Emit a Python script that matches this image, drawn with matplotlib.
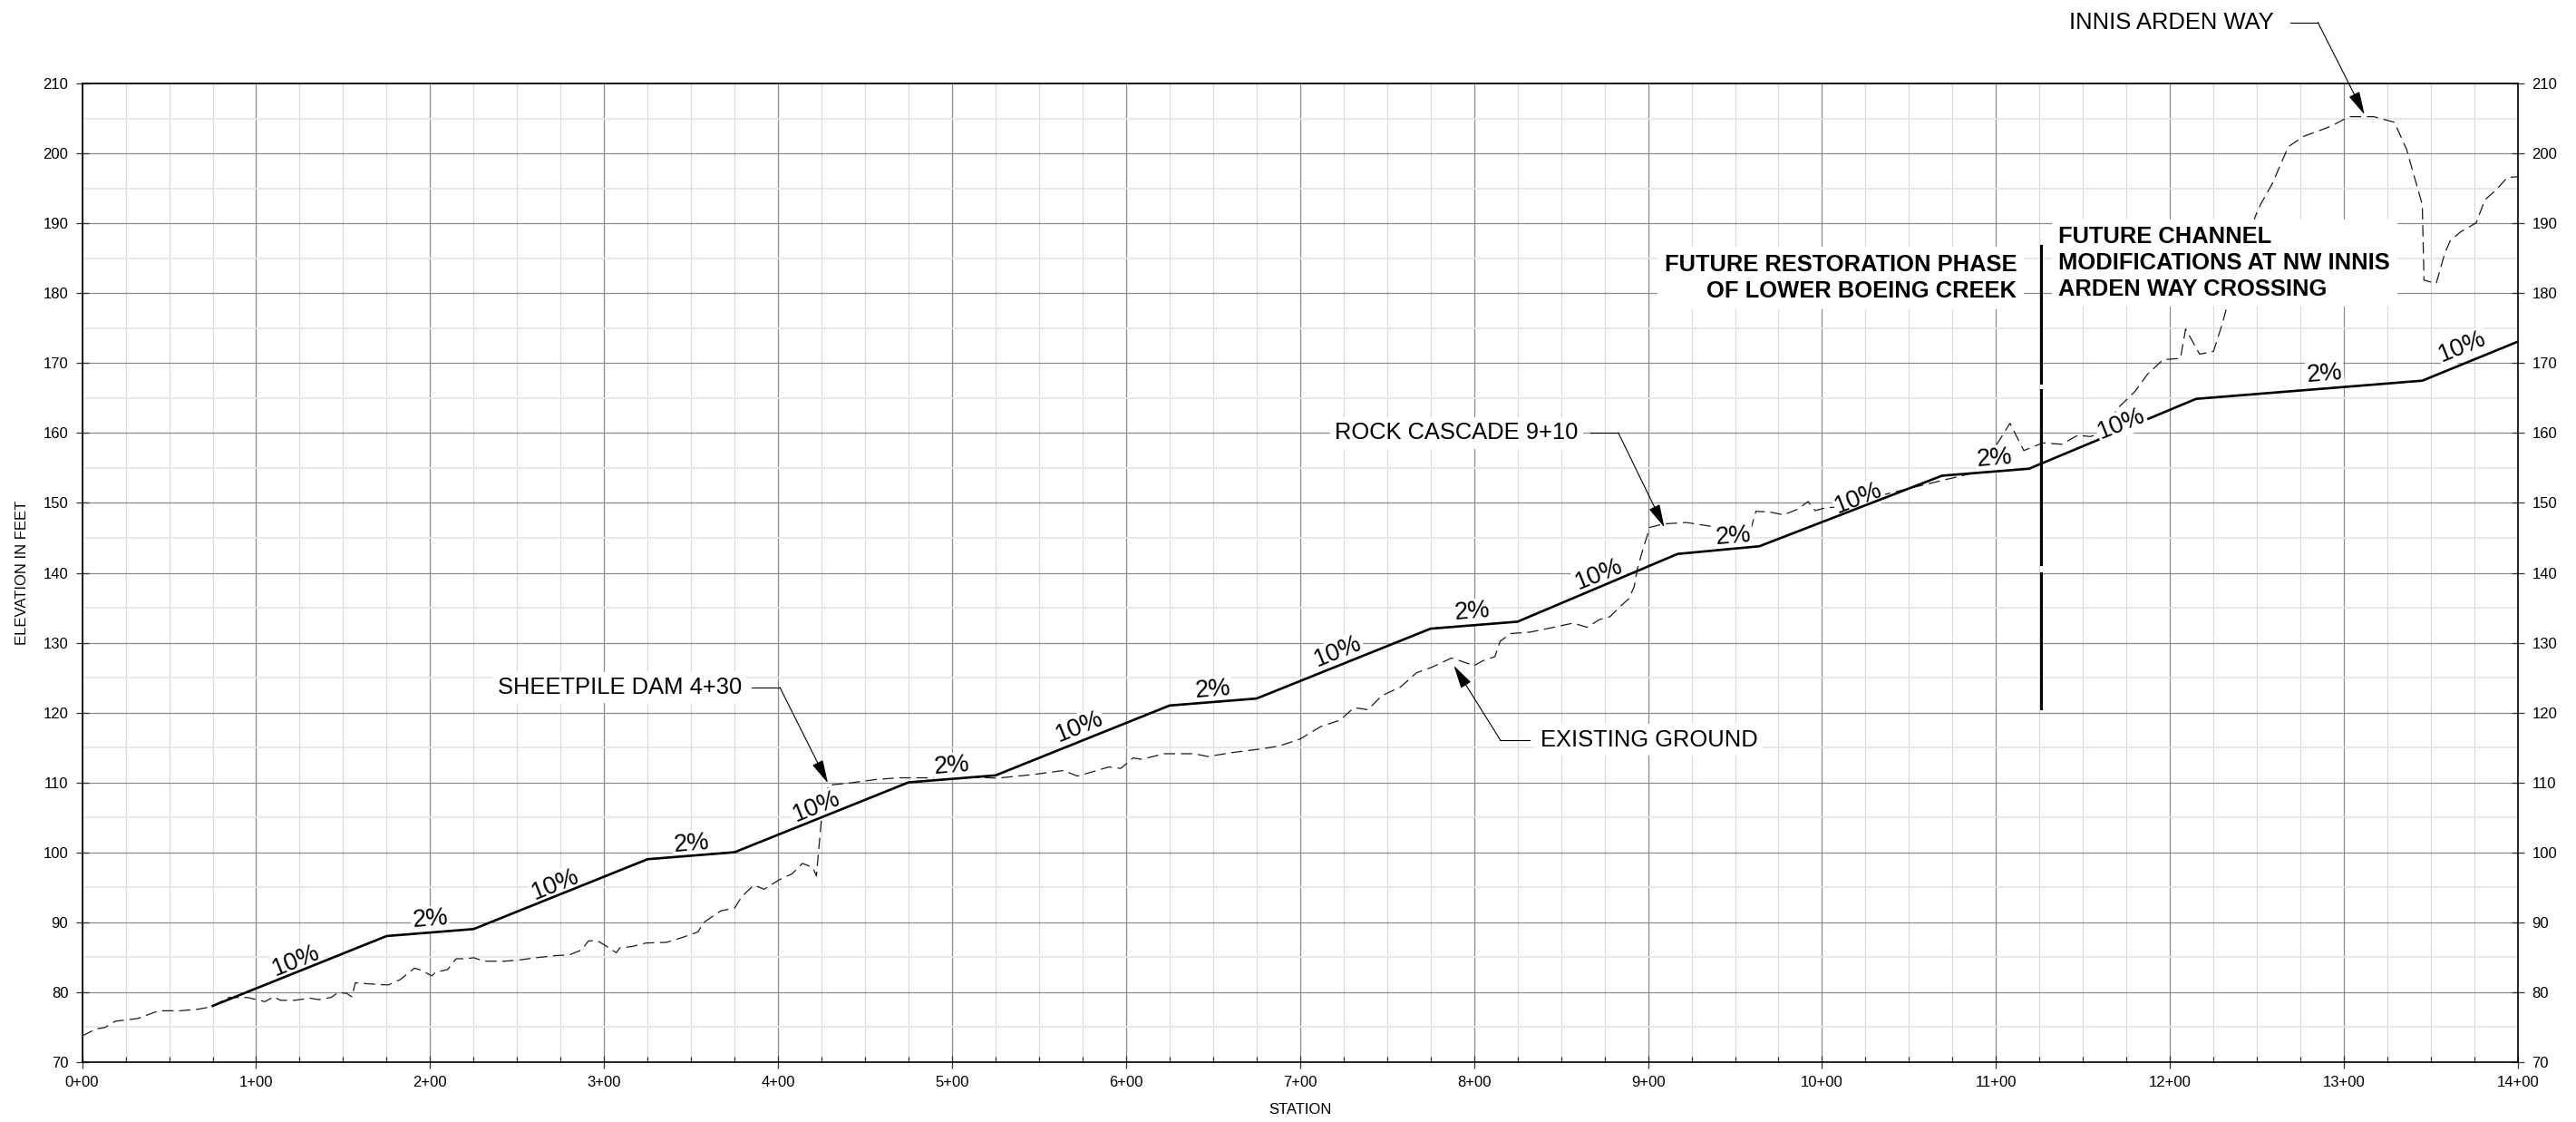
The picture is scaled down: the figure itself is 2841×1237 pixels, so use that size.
import matplotlib.pyplot as plt
from matplotlib.ticker import MultipleLocator, FuncFormatter
import numpy as np

plt.rcParams["font.family"] = ["Liberation Sans", "DejaVu Sans"]

# existing ground profile (station in feet, elevation in feet)
ground_sta = [
    0, 8, 13, 19, 32, 44, 56, 66, 75, 84, 95, 102, 105, 110, 114, 122, 131, 136,
    143, 147, 152, 155, 157, 168, 176, 183, 191, 195, 201, 203, 210, 215, 221,
    225, 231, 243, 252, 261, 272, 280, 287, 291, 296, 301, 307, 309, 316, 324,
    336, 345, 354, 357, 367, 375, 379, 386, 392, 401, 408, 414, 420, 422, 425,
    429, 441, 456, 469, 487, 502, 517, 526, 546, 564, 572, 582, 590, 597, 604,
    609, 622, 639, 647, 662, 678, 688, 700, 712, 723, 731, 739, 747, 758, 767,
    776, 787, 792, 800, 805, 812, 815, 821, 832, 842, 857, 865, 872, 878, 885,
    889, 892, 894, 897, 901, 909, 922, 935, 943, 959, 962, 970, 978, 986, 992,
    996, 1002, 1008, 1039, 1057, 1072, 1079, 1087, 1094, 1098, 1101, 1108, 1116,
    1127, 1138, 1147, 1154, 1160, 1171, 1180, 1187, 1196, 1206, 1209, 1217,
    1225, 1230, 1234, 1249, 1252, 1259, 1268, 1277, 1287, 1293, 1303, 1317,
    1329, 1336, 1345, 1346, 1353, 1358, 1361, 1367, 1376, 1381, 1387, 1394, 1400,
]
ground_elev = [
    73.7, 74.7, 74.9, 75.8, 76.2, 77.3, 77.3, 77.5, 77.9, 79.2, 79.2, 78.8,
    78.6, 79.3, 78.8, 78.8, 79.1, 78.9, 79.2, 79.9, 79.8, 79.3, 81.3, 81.1,
    81.0, 81.8, 83.4, 83.1, 82.3, 82.8, 83.2, 84.75, 84.75, 84.9, 84.4, 84.4,
    84.6, 84.9, 85.2, 85.3, 86.0, 87.3, 87.35, 86.6, 85.6, 86.3, 86.5, 87.0,
    87.1, 87.8, 88.6, 89.9, 91.6, 92.0, 93.6, 95.3, 94.7, 96.1, 96.9, 98.4,
    97.8, 96.6, 105.0, 109.6, 109.9, 110.4, 110.65, 110.65, 110.65, 110.7,
    110.6, 111.1, 111.7, 110.9, 111.6, 112.2, 112.0, 113.5, 113.3, 114.1,
    114.1, 113.7, 114.3, 114.8, 115.2, 116.2, 118.0, 118.9, 120.7, 120.4,
    122.4, 123.7, 125.7, 126.5, 127.8, 127.4, 126.7, 127.4, 128.0, 130.2,
    131.3, 131.5, 132.0, 132.8, 132.2, 133.3, 133.7, 135.4, 136.3, 138.0,
    140.7, 143.3, 146.5, 147.0, 147.2, 146.7, 146.2, 146.2, 148.8, 148.7,
    148.3, 149.1, 150.2, 148.9, 149.3, 149.4, 151.4, 152.5, 153.4, 153.8,
    154.3, 154.9, 157.5, 158.6, 161.4, 157.5, 158.6, 158.4, 159.7, 159.5,
    159.9, 163.8, 166.0, 168.4, 170.5, 170.7, 174.9, 171.3, 171.7, 175.6,
    179.3, 191.0, 192.7, 195.8, 201.0, 202.5, 203.4, 204.0, 205.3, 205.3,
    204.5, 200.6, 192.7, 181.9, 181.4, 185.8, 187.5, 188.8, 190.1, 193.4,
    194.7, 196.6, 196.7,
]

# proposed channel profile
profile_sta = [75, 175, 225, 325, 375, 475, 525, 625, 675, 775, 825, 917, 964,
               1069, 1119, 1215, 1345, 1400]
profile_elev = [78, 88, 89, 99, 100, 110, 111, 121, 122, 132, 133, 142.7, 143.8,
                153.9, 154.9, 164.9, 167.5, 173.1]

# grade callouts along the profile
grade_text = ["10%", "2%", "10%", "2%", "10%", "2%", "10%", "2%", "10%", "2%",
              "10%", "2%", "10%", "2%", "10%", "2%", "10%"]
grade_sta = [123, 200, 272, 350, 422, 500, 573, 650, 722, 799, 872, 949, 1021,
             1099, 1172, 1289, 1368]
grade_elev = [84.5, 90.4, 95.3, 101.2, 106.5, 112.4, 118.0, 123.2, 128.7, 134.4,
              139.7, 145.2, 150.7, 156.4, 161.3, 168.4, 172.3]
# the 11+72 callout sits on the line and breaks it
grade_breaks_line = [False] * 14 + [True, False, False]

# leader callouts
callout_text = ["SHEETPILE DAM 4+30", "ROCK CASCADE 9+10", "EXISTING GROUND",
                "INNIS ARDEN WAY"]
callout_ha = ["right", "right", "left", "left"]
callout_text_x = [379, 860, 838, 1142]
callout_y = [123.6, 160.0, 116.1, 218.8]
callout_line_x0 = [385, 867, 832, 1269]
callout_line_x1 = [401, 883, 815, 1285]
callout_tip_sta = [428.6, 909.4, 788.4, 1311.8]
callout_tip_elev = [109.9, 146.5, 126.7, 205.6]

# phase limit
phase_sta = 1126
phase_segments = [(186.8, 167.2), (166.2, 141.2), (139.9, 120.6)]
phase_left = "FUTURE RESTORATION PHASE\nOF LOWER BOEING CREEK"
phase_right = "FUTURE CHANNEL\nMODIFICATIONS AT NW INNIS\nARDEN WAY CROSSING"


def station_fmt(v, pos):
    v = int(round(v))
    return f"{v // 100}+{v % 100:02d}"


fig = plt.figure(figsize=(28.41, 12.37), dpi=100)
ax = fig.add_axes([0.03189, 0.05368, 0.94558, 0.87162])

ax.set_xlim(0, 1400)
ax.set_ylim(70, 210)
ax.xaxis.set_major_locator(MultipleLocator(100))
ax.xaxis.set_minor_locator(MultipleLocator(25))
ax.yaxis.set_major_locator(MultipleLocator(10))
ax.yaxis.set_minor_locator(MultipleLocator(5))
ax.xaxis.set_major_formatter(FuncFormatter(station_fmt))

ax.grid(which="major", color="#8c8c8c", lw=0.9, zorder=0)
ax.grid(which="minor", axis="x", color="#dadada", lw=0.9, zorder=0)
ax.grid(which="minor", axis="y", color="#e6e6e6", lw=1.3, zorder=0)
ax.set_axisbelow(True)

ax.tick_params(axis="x", which="major", direction="inout", length=10, width=0.9,
               color="#333333", labelsize=12, pad=6)
ax.tick_params(axis="x", which="minor", direction="in", length=4.5, width=0.9,
               color="#333333")
ax.tick_params(axis="y", which="major", direction="inout", length=10, width=0.9,
               color="#333333", labelsize=12, pad=6, right=True, labelright=True)
ax.tick_params(axis="y", which="minor", length=0)
for s in ax.spines.values():
    s.set_linewidth(1.2)
    s.set_color("black")

ax.set_xlabel("STATION", fontsize=12)
ax.set_ylabel("ELEVATION IN FEET", fontsize=12)
ax.xaxis.set_label_coords(0.5, -0.042)
ax.yaxis.set_label_coords(-0.0219, 0.5)

ax.plot(ground_sta, ground_elev, color="#1a1a1a", lw=0.9, dashes=(10, 5), zorder=2)
ax.plot(profile_sta, profile_elev, color="black", lw=1.9, zorder=4)

for t, x, y, brk in zip(grade_text, grade_sta, grade_elev, grade_breaks_line):
    slope = float(t.strip("%")) / 100
    ax.text(x, y, t, fontsize=19.5, ha="center", va="center",
            rotation=np.degrees(np.arctan(slope)), rotation_mode="anchor",
            transform_rotates_text=True, zorder=5 if brk else 3,
            bbox=dict(boxstyle="square,pad=0.05", fc="white", ec="none"))

for t, ha, tx, y, x0, x1, sx, sy in zip(callout_text, callout_ha, callout_text_x,
                                        callout_y, callout_line_x0, callout_line_x1,
                                        callout_tip_sta, callout_tip_elev):
    ax.text(tx, y, t, fontsize=18.4, ha=ha, va="center", zorder=6,
            bbox=dict(boxstyle="square,pad=0.2", fc="white", ec="none"))
    ax.plot([x0, x1], [y, y], color="black", lw=0.8, zorder=6, clip_on=False)
    ax.annotate("", xy=(sx, sy), xytext=(x1, y), annotation_clip=False, zorder=6,
                arrowprops=dict(arrowstyle="-|>,head_length=0.8,head_width=0.2",
                                mutation_scale=20, color="black", lw=0.8,
                                shrinkA=0, shrinkB=0))

for top, bottom in phase_segments:
    ax.plot([phase_sta, phase_sta], [top, bottom], color="black", lw=2.2, zorder=7)

ax.text(phase_sta - 14, 179.4, phase_left, fontsize=18.4, fontweight="bold",
        ha="right", va="baseline", multialignment="right", linespacing=1.28,
        zorder=6, bbox=dict(boxstyle="square,pad=0.3", fc="white", ec="none"))
ax.text(phase_sta + 10, 179.7, phase_right, fontsize=18.4, fontweight="bold",
        ha="left", va="baseline", multialignment="left", linespacing=1.25,
        zorder=6, bbox=dict(boxstyle="square,pad=0.3", fc="white", ec="none"))

fig.savefig("out.png", dpi=100)
